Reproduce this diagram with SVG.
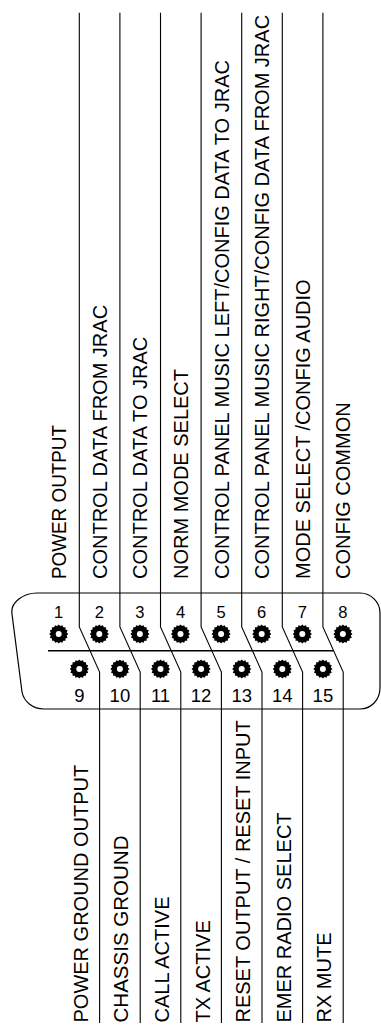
<svg xmlns="http://www.w3.org/2000/svg" xmlns:xlink="http://www.w3.org/1999/xlink" width="381" height="1028" viewBox="0 0 381 1028">
<style>
.lbl{font-family:"Liberation Sans",Arial,sans-serif;font-size:20px;fill:#000}
.ntop{font-family:"Liberation Sans",Arial,sans-serif;font-size:16.5px;fill:#000;text-anchor:middle}
.nbot{font-family:"Liberation Sans",Arial,sans-serif;font-size:18.5px;fill:#000;text-anchor:middle}
.wire{fill:none;stroke:#000;stroke-width:1.1}
.shell{fill:none;stroke:#000;stroke-width:1.2}
</style>
<defs>
<g id="pin">
<polygon fill="#000" points="9.6,0 7.9,1.57 8.87,3.67 6.7,4.48 6.79,6.79 4.48,6.7 3.67,8.87 1.57,7.9 0,9.6 -1.57,7.9 -3.67,8.87 -4.48,6.7 -6.79,6.79 -6.7,4.48 -8.87,3.67 -7.9,1.57 -9.6,0 -7.9,-1.57 -8.87,-3.67 -6.7,-4.48 -6.79,-6.79 -4.48,-6.7 -3.67,-8.87 -1.57,-7.9 0,-9.6 1.57,-7.9 3.67,-8.87 4.48,-6.7 6.79,-6.79 6.7,-4.48 8.87,-3.67 7.9,-1.57"/>
<circle r="7.9" fill="#000"/>
<circle r="3" fill="#fff"/>
</g>
</defs>
<rect width="381" height="1028" fill="#fff"/>
<g id="shell">
<path class="shell" d="M 37 593 H 360 C 371 593 380 602 380 613 V 688 C 380 700 371 709 360 709 H 44 C 33 709 24 702 22 692 L 12 614 C 10 602 24 593 37 593 Z"/>
<line x1="48" y1="650.7" x2="333.7" y2="650.7" stroke="#000" stroke-width="1.5"/>
</g>
<g id="connectors">
<path class="wire" d="M 79.3 12.7 V 627 L 99.6 672 V 1023"/>
<path class="wire" d="M 119.9 12.7 V 627 L 140.2 672 V 1023"/>
<path class="wire" d="M 160.5 12.7 V 627 L 180.8 672 V 1023"/>
<path class="wire" d="M 201.1 12.7 V 627 L 221.4 672 V 1023"/>
<path class="wire" d="M 241.7 12.7 V 627 L 262 672 V 1023"/>
<path class="wire" d="M 282.3 12.7 V 627 L 302.6 672 V 1023"/>
<path class="wire" d="M 322.9 12.7 V 627 L 343.2 672 V 1023"/>
</g>
<g id="pin1"><use xlink:href="#pin" x="58.7" y="634"/><text class="ntop" x="58.7" y="617.5">1</text><text class="lbl" transform="translate(66.2,579) rotate(-90)" textLength="154" lengthAdjust="spacingAndGlyphs">POWER OUTPUT</text></g>
<g id="pin2"><use xlink:href="#pin" x="99.3" y="634"/><text class="ntop" x="99.3" y="617.5">2</text><text class="lbl" transform="translate(106.8,579) rotate(-90)">CONTROL DATA FROM JRAC</text></g>
<g id="pin3"><use xlink:href="#pin" x="139.9" y="634"/><text class="ntop" x="139.9" y="617.5">3</text><text class="lbl" transform="translate(147.4,579) rotate(-90)">CONTROL DATA TO JRAC</text></g>
<g id="pin4"><use xlink:href="#pin" x="180.5" y="634"/><text class="ntop" x="180.5" y="617.5">4</text><text class="lbl" transform="translate(188,579) rotate(-90)">NORM MODE SELECT</text></g>
<g id="pin5"><use xlink:href="#pin" x="221.1" y="634"/><text class="ntop" x="221.1" y="617.5">5</text><text class="lbl" transform="translate(228.6,579) rotate(-90)">CONTROL PANEL MUSIC LEFT/CONFIG DATA TO JRAC</text></g>
<g id="pin6"><use xlink:href="#pin" x="261.7" y="634"/><text class="ntop" x="261.7" y="617.5">6</text><text class="lbl" transform="translate(269.2,579) rotate(-90)">CONTROL PANEL MUSIC RIGHT/CONFIG DATA FROM JRAC</text></g>
<g id="pin7"><use xlink:href="#pin" x="302.3" y="634"/><text class="ntop" x="302.3" y="617.5">7</text><text class="lbl" transform="translate(309.8,579) rotate(-90)">MODE SELECT /CONFIG AUDIO</text></g>
<g id="pin8"><use xlink:href="#pin" x="342.9" y="634"/><text class="ntop" x="342.9" y="617.5">8</text><text class="lbl" transform="translate(350.4,579) rotate(-90)">CONFIG COMMON</text></g>
<g id="pin9"><use xlink:href="#pin" x="79.3" y="669"/><text class="nbot" x="79.3" y="701.7">9</text><text class="lbl" transform="translate(87.8,1022.5) rotate(-90)">POWER GROUND OUTPUT</text></g>
<g id="pin10"><use xlink:href="#pin" x="119.9" y="669"/><text class="nbot" x="119.9" y="701.7">10</text><text class="lbl" transform="translate(128.4,1022.5) rotate(-90)" textLength="187" lengthAdjust="spacingAndGlyphs">CHASSIS GROUND</text></g>
<g id="pin11"><use xlink:href="#pin" x="160.5" y="669"/><text class="nbot" x="160.5" y="701.7">11</text><text class="lbl" transform="translate(169,1022.5) rotate(-90)">CALL ACTIVE</text></g>
<g id="pin12"><use xlink:href="#pin" x="201.1" y="669"/><text class="nbot" x="201.1" y="701.7">12</text><text class="lbl" transform="translate(209.6,1022.5) rotate(-90)">TX ACTIVE</text></g>
<g id="pin13"><use xlink:href="#pin" x="241.7" y="669"/><text class="nbot" x="241.7" y="701.7">13</text><text class="lbl" transform="translate(250.2,1022.5) rotate(-90)">RESET OUTPUT / RESET INPUT</text></g>
<g id="pin14"><use xlink:href="#pin" x="282.3" y="669"/><text class="nbot" x="282.3" y="701.7">14</text><text class="lbl" transform="translate(290.8,1022.5) rotate(-90)">EMER RADIO SELECT</text></g>
<g id="pin15"><use xlink:href="#pin" x="322.9" y="669"/><text class="nbot" x="322.9" y="701.7">15</text><text class="lbl" transform="translate(331.4,1022.5) rotate(-90)">RX MUTE</text></g>
</svg>
